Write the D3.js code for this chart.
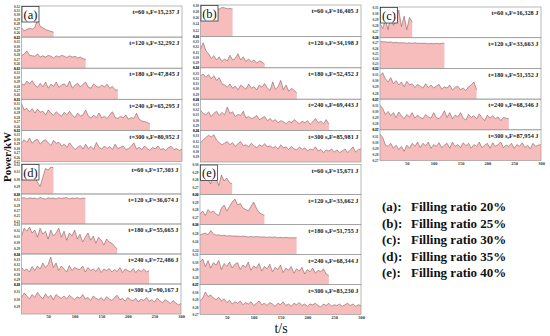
<!DOCTYPE html>
<html><head><meta charset="utf-8">
<script src="https://cdn.jsdelivr.net/npm/d3@7"></script>
<style>
html,body{margin:0;padding:0;background:#fff;}
svg{display:block;font-family:"Liberation Serif","Times New Roman",serif;}
</style></head>
<body>
<svg id="chart" width="550" height="336"></svg>
<script>
// ---------------- DATA ----------------
const panelIds = ["a","b","c","d","e"];
const durations = [60,120,180,240,300];
const xTickValues = [50,100,150,200,250,300];
const fillingRatios = ["20%","25%","30%","35%","40%"];

const energyA = ["15,237","32,292","47,845","65,295","80,952"];
const energyB = ["16,405","34,198","52,452","69,443","85,981"];
const energyC = ["16,328","33,663","51,352","68,346","87,954"];
const energyD = ["17,303","36,674","55,665","72,486","90,167"];
const energyE = ["15,671","33,662","51,755","68,344","83,230"];

// y-axis domains per sub-plot (kW)
const yDomainA = [[.25,.32],[.25,.32],[.25,.32],[.25,.32],[.25,.32]];
const yDomainB = [[.20,.30],[.28,.34],[.28,.34],[.28,.34],[.28,.34]];
const yDomainC = [[.26,.31],[.22,.28],[.27,.32],[.27,.32],[.27,.32]];
const yDomainD = [[.28,.32],[.22,.33],[.28,.33],[.28,.34],[.28,.32]];
const yDomainE = [[.26,.30],[.26,.30],[.23,.30],[.27,.31],[.27,.31]];

// y tick labels per sub-plot
const yTicksA = [[.25,.26,.27,.28,.29,.30,.31,.32],[.25,.26,.27,.28,.29,.30,.31,.32],[.25,.26,.27,.28,.29,.30,.31,.32],[.25,.26,.27,.28,.29,.30,.31,.32],[.25,.26,.27,.28,.29,.30,.31,.32]];
const yTicksB = [[.20,.22,.24,.26,.28,.30],[.28,.29,.30,.31,.32,.33,.34],[.28,.29,.30,.31,.32,.33,.34],[.28,.29,.30,.31,.32,.33,.34],[.29,.30,.31,.32,.33,.34]];
const yTicksC = [[.26,.27,.28,.29,.30,.31],[.22,.23,.24,.25,.26,.27,.28],[.27,.28,.29,.30,.31,.32],[.27,.28,.29,.30,.31,.32],[.27,.28,.29,.30,.31,.32]];
const yTicksD = [[.28,.29,.30,.31,.32],[.23,.25,.27,.29,.31,.33],[.28,.29,.30,.31,.32,.33],[.28,.29,.30,.31,.32,.33,.34],[.29,.30,.31,.32]];
const yTicksE = [[.26,.27,.28,.29,.30],[.26,.27,.28,.29,.30],[.24,.26,.28,.30],[.27,.28,.29,.30,.31],[.27,.28,.29,.30,.31]];

// power series (kW), sampled evenly from 0 to t
const powerA60  = [.271,.264,.267,.270,.268,.272,.292,.274,.271,.267,.265,.263,.261];
const powerA120 = [.278,.282,.289,.279,.278,.277,.282,.275,.278,.275,.279,.277,.273,.278,.275,.279,.277,.274,.278,.275,.277,.273,.275,.271,.270];
const powerA180 = [.285,.282,.291,.285,.292,.282,.277,.286,.278,.289,.275,.284,.279,.289,.277,.282,.285,.278,.291,.275,.282,.286,.278,.284,.289,.277,.275,.285,.279,.277,.282,.278,.284,.275,.279,.271,.271];
const powerA240 = [.310,.296,.300,.292,.299,.289,.298,.291,.293,.285,.296,.289,.284,.292,.286,.282,.291,.285,.293,.284,.279,.289,.282,.285,.296,.282,.278,.284,.279,.289,.278,.282,.277,.285,.292,.279,.277,.282,.278,.285,.275,.279,.277,.289,.275,.271,.270,.268,.265];
const powerA300 = [.292,.299,.293,.303,.291,.298,.300,.289,.296,.299,.292,.286,.298,.291,.293,.285,.289,.282,.292,.284,.277,.282,.286,.278,.289,.279,.284,.277,.293,.282,.278,.285,.279,.284,.277,.289,.279,.282,.285,.277,.279,.284,.292,.278,.282,.277,.285,.279,.275,.282,.278,.285,.277,.279,.275,.282,.284,.277,.279,.275,.278];

const powerB60  = [.275,.288,.290,.288,.287,.289,.288,.287,.292,.291,.288,.289,.287];
const powerB120 = [.316,.328,.313,.307,.298,.303,.295,.301,.292,.297,.293,.304,.295,.298,.307,.295,.301,.292,.297,.291,.295,.289,.293,.291,.287];
const powerB180 = [.325,.328,.322,.327,.319,.325,.316,.321,.310,.307,.303,.309,.301,.305,.298,.307,.303,.299,.309,.301,.304,.298,.307,.303,.310,.301,.297,.313,.299,.304,.316,.298,.307,.295,.301,.297,.292];
const powerB240 = [.319,.313,.310,.316,.307,.313,.317,.309,.315,.310,.325,.313,.316,.307,.311,.309,.317,.304,.307,.303,.305,.309,.301,.304,.307,.299,.303,.298,.301,.295,.299,.297,.293,.298,.295,.301,.297,.293,.298,.295,.299,.292,.297,.303,.295,.298,.293,.301,.292];
const powerB300 = [.317,.322,.327,.331,.328,.332,.322,.317,.313,.316,.319,.313,.317,.310,.315,.319,.311,.313,.309,.316,.311,.307,.313,.310,.315,.309,.311,.307,.310,.305,.313,.307,.309,.304,.310,.305,.303,.309,.304,.307,.301,.305,.303,.309,.301,.304,.298,.303,.301,.305,.299,.303,.298,.301,.305,.298,.303,.309,.299,.304,.305];

const powerC60  = [.283,.275,.290,.273,.298,.280,.288,.305,.278,.295,.273,.293,.285];
const powerC120 = [.273,.272,.272,.271,.272,.270,.271,.270,.270,.270,.269,.270,.269,.270,.269,.269,.269,.269,.268,.269,.268,.269,.268,.269,.269];
const powerC180 = [.308,.313,.303,.298,.305,.295,.300,.293,.298,.290,.299,.293,.295,.289,.294,.291,.288,.295,.289,.293,.288,.291,.294,.286,.290,.288,.293,.285,.289,.291,.285,.288,.284,.290,.293,.298,.285];
const powerC240 = [.310,.305,.295,.300,.293,.298,.290,.299,.293,.288,.295,.291,.298,.289,.294,.290,.288,.295,.291,.289,.298,.290,.288,.293,.301,.290,.298,.288,.294,.291,.298,.289,.286,.295,.290,.293,.288,.296,.290,.285,.294,.289,.293,.288,.291,.285,.290,.289,.288];
const powerC300 = [.313,.308,.295,.293,.298,.290,.295,.288,.293,.285,.295,.290,.298,.293,.300,.291,.298,.294,.300,.290,.296,.293,.299,.291,.295,.298,.290,.300,.293,.296,.291,.299,.294,.298,.290,.296,.293,.300,.291,.295,.298,.290,.299,.293,.296,.300,.291,.295,.293,.298,.290,.296,.293,.299,.291,.295,.289,.298,.293,.295,.296];

const powerD60  = [.306,.307,.306,.307,.305,.302,.296,.290,.302,.314,.312,.316,.315];
const powerD120 = [.314,.317,.312,.316,.314,.315,.312,.317,.314,.311,.316,.314,.315,.312,.316,.314,.315,.317,.312,.315,.314,.316,.312,.315,.314];
const powerD180 = [.310,.323,.318,.325,.315,.320,.308,.323,.313,.318,.305,.320,.310,.315,.323,.308,.318,.303,.315,.310,.320,.305,.313,.300,.308,.315,.303,.310,.298,.308,.303,.295,.305,.300,.298,.293,.288];
const powerD240 = [.313,.307,.310,.304,.315,.307,.316,.310,.322,.313,.319,.334,.313,.322,.307,.316,.310,.304,.317,.307,.313,.310,.309,.316,.304,.313,.307,.310,.305,.313,.303,.310,.307,.311,.304,.309,.305,.313,.303,.310,.307,.304,.311,.303,.309,.305,.310,.304,.307];
const powerD300 = [.302,.308,.304,.300,.306,.302,.309,.304,.300,.307,.302,.305,.299,.306,.303,.301,.304,.300,.305,.302,.299,.303,.301,.306,.300,.302,.298,.304,.301,.299,.302,.298,.303,.300,.298,.302,.305,.299,.301,.297,.302,.299,.298,.301,.296,.300,.298,.302,.297,.299,.296,.301,.298,.295,.299,.297,.294,.298,.295,.292,.294];

const powerE60  = [.280,.282,.286,.280,.274,.296,.282,.272,.286,.278,.282,.276,.274];
const powerE120 = [.274,.278,.272,.280,.276,.278,.274,.272,.282,.286,.278,.284,.290,.294,.286,.288,.282,.280,.278,.284,.290,.282,.276,.274,.272];
const powerE180 = [.276,.278,.280,.276,.286,.278,.275,.276,.274,.275,.273,.274,.273,.273,.273,.272,.273,.272,.271,.272,.271,.272,.271,.271,.271,.270,.271,.270,.271,.269,.270,.269,.270,.269,.269,.269,.269];
const powerE240 = [.300,.304,.294,.302,.292,.299,.296,.302,.290,.298,.294,.300,.292,.297,.299,.290,.296,.293,.300,.289,.295,.292,.298,.288,.294,.291,.297,.287,.293,.290,.296,.286,.292,.289,.294,.285,.291,.288,.293,.284,.290,.287,.292,.285,.289,.287,.291,.284,.282];
const powerE300 = [.288,.292,.300,.294,.296,.292,.290,.293,.288,.291,.286,.289,.284,.287,.285,.288,.283,.286,.284,.287,.282,.285,.288,.283,.285,.282,.286,.284,.281,.285,.283,.287,.282,.284,.281,.285,.283,.286,.282,.284,.281,.284,.283,.285,.282,.280,.284,.282,.285,.281,.283,.282,.284,.281,.283,.285,.282,.284,.281,.283,.282];

// ---------------- LAYOUT ----------------
const panels = [
  {id:"a", box:[21.5,182,6,161.5],  xLabels:false, dom:yDomainA, ticks:yTicksA, energy:energyA, series:[powerA60,powerA120,powerA180,powerA240,powerA300]},
  {id:"b", box:[200.5,361,5,162],   xLabels:false, dom:yDomainB, ticks:yTicksB, energy:energyB, series:[powerB60,powerB120,powerB180,powerB240,powerB300]},
  {id:"c", box:[380,541,7,160.5],   xLabels:true,  dom:yDomainC, ticks:yTicksC, energy:energyC, series:[powerC60,powerC120,powerC180,powerC240,powerC300]},
  {id:"d", box:[21.5,181,164,314],  xLabels:true,  dom:yDomainD, ticks:yTicksD, energy:energyD, series:[powerD60,powerD120,powerD180,powerD240,powerD300]},
  {id:"e", box:[200,361,164.5,314.5], xLabels:true,  dom:yDomainE, ticks:yTicksE, energy:energyE, series:[powerE60,powerE120,powerE180,powerE240,powerE300]}
];

const svg = d3.select("#chart");
const FILL = "#f7bcbc", LINE = "#7a5656", FRAME = "#9a9a9a";

panels.forEach(p => {
  const [x0,x1,y0,y1] = p.box;
  const h = (y1-y0)/5;
  const x = d3.scaleLinear().domain([0,300]).range([x0,x1]);
  const g = svg.append("g");
  for (let i=0;i<5;i++){
    const top = y0 + i*h, bot = top + h;
    const y = d3.scaleLinear().domain(p.dom[i]).range([bot, top]);
    const T = durations[i], vals = p.series[i];
    const pts = vals.map((v,k)=>({t: k*T/(vals.length-1), v}));
    const area = d3.area().x(d=>x(d.t)).y0(bot).y1(d=>y(d.v));
    const line = d3.line().x(d=>x(d.t)).y(d=>y(d.v));
    g.append("path").datum(pts).attr("d",area).attr("fill",FILL);
    g.append("path").datum(pts).attr("d",line).attr("fill","none").attr("stroke",LINE).attr("stroke-width",0.55);
    const ax = g.append("g").attr("transform",`translate(${x0},0)`)
      .call(d3.axisLeft(y).tickValues(p.ticks[i]).tickSize(0).tickPadding(1.5).tickFormat(d3.format(".2f")));
    ax.select(".domain").remove();
    ax.selectAll("text").attr("font-size","3.4px").attr("font-weight","bold").attr("fill","#333")
      .attr("font-family","Liberation Serif, serif");
    g.append("rect").attr("x",x0).attr("y",top).attr("width",x1-x0).attr("height",h)
      .attr("fill","none").attr("stroke",FRAME).attr("stroke-width",0.7);
    g.append("text").attr("x",x1-2.5).attr("y",top+8.2).attr("text-anchor","end")
      .attr("font-size","6.3px").attr("font-weight","bold").attr("fill","#222")
      .text(`t=${T} s,F=${p.energy[i]} J`);
  }
  g.append("rect").attr("x",x0+0.5).attr("y",y0+0.5).attr("width",17).attr("height",15.5)
    .attr("fill","#fff").attr("stroke","#222").attr("stroke-width",0.7);
  g.append("text").attr("x",x0+9).attr("y",y0+12.5).attr("text-anchor","middle")
    .attr("font-size","12.5px").attr("fill","#111").text(`(${p.id})`);
  if (p.xLabels){
    const xa = g.append("g").attr("transform",`translate(0,${y1})`)
      .call(d3.axisBottom(x).tickValues(xTickValues).tickSize(0).tickPadding(0.8));
    xa.select(".domain").remove();
    xa.selectAll("text").attr("font-size","4.5px").attr("font-weight","bold").attr("fill","#333")
      .attr("font-family","Liberation Serif, serif");
  }
});

svg.append("text").attr("transform","translate(11,157) rotate(-90)").attr("text-anchor","middle")
  .attr("font-size","11px").attr("font-weight","bold").attr("fill","#111").text("Power/kW");
svg.append("text").attr("x",281).attr("y",332.8).attr("text-anchor","middle")
  .attr("font-size","14px").attr("fill","#111").text("t/s");

panelIds.forEach((id,i)=>{
  const yy = 211 + i*16.5;
  svg.append("text").attr("x",382).attr("y",yy).attr("font-size","13px").attr("font-weight","bold")
    .attr("fill","#111").text(`(${id}):`);
  svg.append("text").attr("x",411).attr("y",yy).attr("font-size","13px").attr("font-weight","bold")
    .attr("fill","#111").text(`Filling ratio ${fillingRatios[i]}`);
});
</script>
</body></html>
